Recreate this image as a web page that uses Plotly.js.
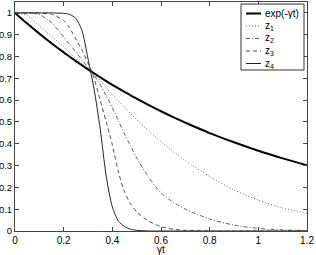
<!DOCTYPE html>
<html>
<head>
<meta charset="utf-8">
<script src="https://cdn.plot.ly/plotly-3.0.1.min.js"></script>
<style>html,body{margin:0;padding:0;background:#fff;}#chart{width:316px;height:255px;}</style>
</head>
<body>
<div id="chart"></div>
<script>
// gamma*t sample points
var gt = [0,0.05,0.1,0.15,0.2,0.225,0.25,0.275,0.3,0.325,0.35,0.375,0.4,0.425,0.45,0.475,0.5,0.55,0.6,0.65,0.7,0.8,0.9,1.0,1.1,1.2];
var expCurve = [1,0.951,0.905,0.861,0.819,0.799,0.779,0.760,0.741,0.723,0.705,0.687,0.670,0.654,0.638,0.622,0.607,0.577,0.549,0.522,0.497,0.449,0.407,0.368,0.333,0.301];
var z1 = [1,0.988,0.94,0.893,0.845,0.818,0.79,0.767,0.745,0.72,0.69,0.658,0.625,0.597,0.568,0.539,0.51,0.458,0.41,0.364,0.322,0.25,0.188,0.142,0.105,0.082];
var z2 = [1,0.999,0.993,0.955,0.89,0.855,0.82,0.785,0.75,0.715,0.67,0.62,0.565,0.505,0.445,0.39,0.335,0.245,0.175,0.132,0.10,0.055,0.027,0.012,0.005,0.002];
var z3 = [1,1,0.999,0.994,0.965,0.93,0.88,0.83,0.77,0.7,0.6,0.5,0.395,0.27,0.18,0.125,0.088,0.045,0.02,0.008,0.003,0,0,0,0,0];
var z4 = [1,1,1,1,0.998,0.993,0.975,0.92,0.79,0.65,0.47,0.25,0.11,0.045,0.02,0.008,0.003,0,0,0,0,0,0,0,0,0];
var legendNames = ['exp(-γt)','z<sub>1</sub>','z<sub>2</sub>','z<sub>3</sub>','z<sub>4</sub>'];
var xTitle = 'γt';

var styles = [
  {color:'#000', width:2, dash:'solid'},
  {color:'#444', width:0.8, dash:'1px,2px'},
  {color:'#333', width:0.8, dash:'4px,2px,1px,2px'},
  {color:'#222', width:0.8, dash:'4px,3px'},
  {color:'#222', width:1, dash:'solid'}
];
var series = [expCurve, z1, z2, z3, z4];
var traces = series.map(function(s, i){
  return {x: gt, y: s, type:'scatter', mode:'lines', name: legendNames[i],
    line:{color:styles[i].color, width:styles[i].width, dash:styles[i].dash, shape:'spline', smoothing:0.7},
    showlegend:false, hoverinfo:'skip'};
});

// manual legend (paper coordinates)
var L = 15, R = 307, T = 2, B = 231;
function px(x){ return (x - L)/(R - L); }
function py(y){ return (B - y)/(B - T); }
var shapes = [{type:'rect', xref:'paper', yref:'paper', x0:px(241), x1:px(304), y0:py(70), y1:py(4),
  line:{color:'#333', width:1}, fillcolor:'#fff', layer:'above'}];
var annotations = [];
var rows = [13.5, 26, 38.5, 51, 63.5];
for (var i = 0; i < 5; i++) {
  shapes.push({type:'line', xref:'paper', yref:'paper', x0:px(246), x1:px(261), y0:py(rows[i]), y1:py(rows[i]),
    line:{color:styles[i].color, width:styles[i].width, dash:styles[i].dash}, layer:'above'});
  annotations.push({xref:'paper', yref:'paper', x:px(263), y:py(rows[i]), xanchor:'left', yanchor:'middle',
    text: legendNames[i], showarrow:false, font:{size:10, color:'#000', family:'Liberation Sans, Arial, sans-serif'}});
}

var axisCommon = {showline:true, linecolor:'#444', linewidth:1, mirror:'ticks', ticks:'inside', ticklen:4,
  tickcolor:'#444', tickwidth:1, showgrid:false, zeroline:false, fixedrange:true,
  tickfont:{size:10, color:'#000', family:'Liberation Sans, Arial, sans-serif'}};

var layout = {
  width:316, height:255,
  margin:{l:L, r:316-R, t:T, b:255-B, pad:0},
  paper_bgcolor:'#fff', plot_bgcolor:'#fff',
  xaxis: Object.assign({}, axisCommon, {range:[0,1.2], dtick:0.2, tick0:0,
    title:{text:xTitle, standoff:4, font:{size:10, color:'#000', family:'Liberation Sans, Arial, sans-serif'}}}),
  yaxis: Object.assign({}, axisCommon, {range:[0,1.05], dtick:0.1, tick0:0,
    tickfont:{size:9.5, color:'#000', family:'Liberation Sans, Arial, sans-serif'}}),
  shapes: shapes,
  annotations: annotations,
  showlegend:false
};
Plotly.newPlot('chart', traces, layout, {staticPlot:true, displayModeBar:false});
</script>
</body>
</html>
